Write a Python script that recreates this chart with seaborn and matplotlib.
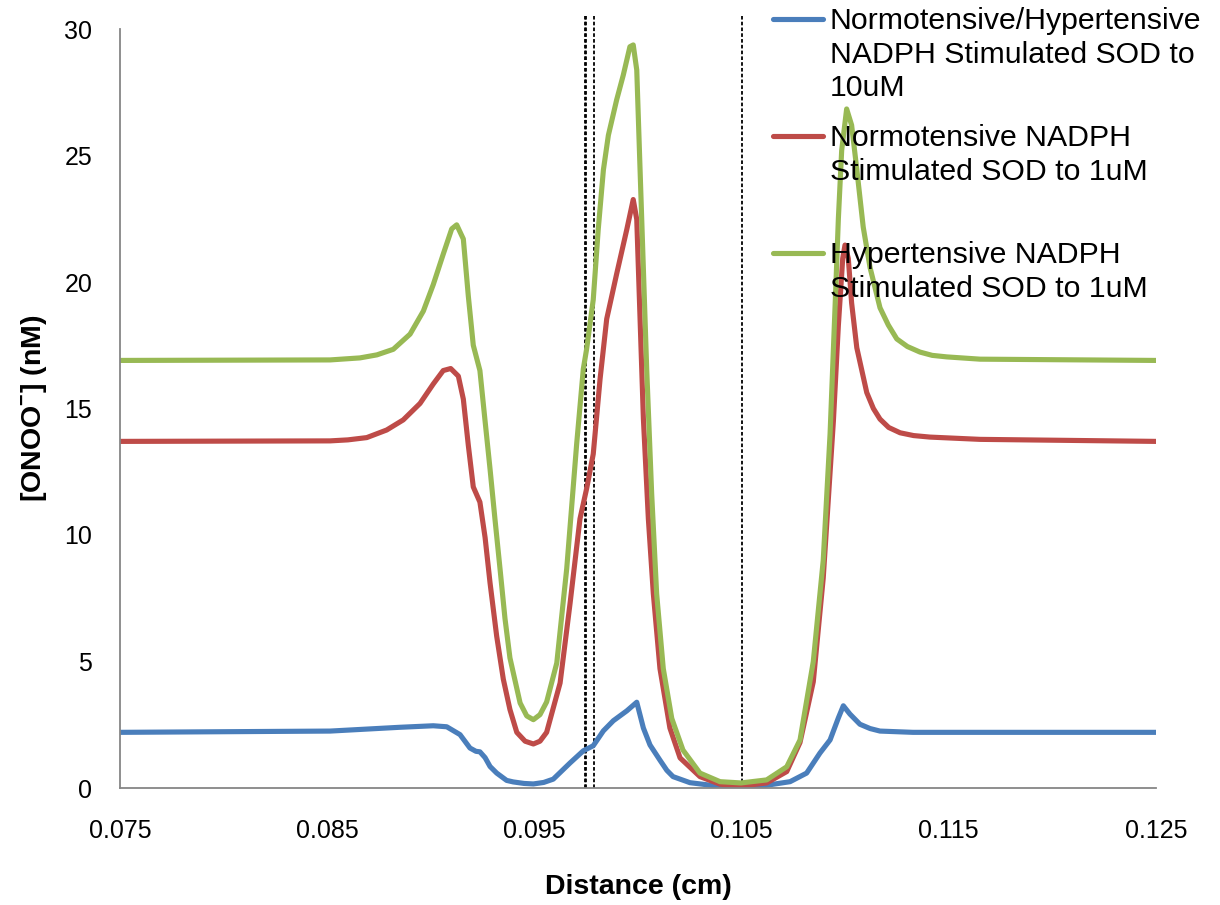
import matplotlib
matplotlib.use("Agg")
import matplotlib.pyplot as plt
from matplotlib.lines import Line2D
import pandas as pd
import seaborn as sns

# ---------------- data ----------------
series_names = [
    "Normotensive/Hypertensive\nNADPH Stimulated SOD to\n10uM",
    "Normotensive NADPH\nStimulated SOD to 1uM",
    "Hypertensive NADPH\nStimulated SOD to 1uM",
]
colors = ["#4A7EBB", "#BE4B48", "#98B954"]

blue_x = [0.075, 0.08514, 0.08851, 0.09012, 0.09077, 0.09141, 0.09189, 0.09218, 0.09237, 0.09262,
          0.09286, 0.09318, 0.09366, 0.09398, 0.09450, 0.09495, 0.09545, 0.09591, 0.09672, 0.09736,
          0.09784, 0.09833, 0.09881, 0.09946, 0.09994, 0.10026, 0.10058, 0.10106, 0.10139, 0.10169,
          0.10251, 0.10410, 0.10574, 0.10734, 0.10814, 0.10878, 0.10927, 0.10967, 0.10991, 0.11023,
          0.11071, 0.11120, 0.11168, 0.11327, 0.125]
blue_y = [2.2, 2.25, 2.4, 2.46, 2.42, 2.11, 1.58, 1.45, 1.43, 1.2,
          0.85, 0.59, 0.3, 0.24, 0.18, 0.16, 0.22, 0.35, 0.99, 1.47,
          1.67, 2.26, 2.66, 3.05, 3.39, 2.37, 1.7, 1.1, 0.7, 0.45,
          0.21, 0.05, 0.05, 0.25, 0.59, 1.38, 1.9, 2.77, 3.25, 2.92,
          2.52, 2.35, 2.25, 2.2, 2.2]

red_x = [0.075, 0.08514, 0.08600, 0.08691, 0.08787, 0.08867, 0.08948, 0.09012, 0.09060, 0.09096,
         0.09133, 0.09157, 0.09181, 0.09205, 0.09237, 0.09262, 0.09286, 0.09318, 0.09350, 0.09382,
         0.09415, 0.09455, 0.09495, 0.09527, 0.09559, 0.09624, 0.09672, 0.09720, 0.09752, 0.09784,
         0.09817, 0.09849, 0.09897, 0.09946, 0.09977, 0.09994, 0.10010, 0.10026, 0.10050, 0.10074,
         0.10106, 0.10154, 0.10203, 0.10299, 0.10396, 0.10497, 0.10621, 0.10718, 0.10782, 0.10846,
         0.10894, 0.10943, 0.10967, 0.10988, 0.10999, 0.11015, 0.11031, 0.11056, 0.11104, 0.11136,
         0.11168, 0.11210, 0.11265, 0.11330, 0.11409, 0.11651, 0.125]
red_y = [13.7, 13.72, 13.76, 13.85, 14.15, 14.55, 15.2, 15.97, 16.5, 16.58,
         16.28, 15.37, 13.55, 11.9, 11.3, 9.9, 8.1, 6.0, 4.3, 3.1,
         2.2, 1.85, 1.74, 1.85, 2.2, 4.15, 7.29, 10.64, 11.83, 13.2,
         16.17, 18.54, 20.32, 22.08, 23.26, 22.47, 18.54, 14.6, 10.64, 7.68,
         4.72, 2.37, 1.19, 0.45, 0.15, 0.08, 0.2, 0.65, 1.8, 4.2,
         8.3, 14.5, 18.28, 20.93, 21.46, 20.93, 19.17, 17.4, 15.63, 15.0,
         14.58, 14.25, 14.04, 13.93, 13.87, 13.78, 13.7]

green_x = [0.075, 0.08514, 0.08658, 0.08740, 0.08819, 0.08900, 0.08964, 0.09012, 0.09060, 0.09101,
           0.09125, 0.09157, 0.09181, 0.09205, 0.09237, 0.09262, 0.09286, 0.09310, 0.09334, 0.09358,
           0.09382, 0.09431, 0.09463, 0.09495, 0.09527, 0.09559, 0.09608, 0.09656, 0.09704, 0.09736,
           0.09752, 0.09784, 0.09808, 0.09833, 0.09857, 0.09897, 0.09929, 0.09961, 0.09977, 0.09994,
           0.10010, 0.10026, 0.10042, 0.10066, 0.10090, 0.10122, 0.10163, 0.10217, 0.10299, 0.10396,
           0.10497, 0.10621, 0.10718, 0.10782, 0.10846, 0.10894, 0.10927, 0.10951, 0.10967, 0.10983,
           0.11007, 0.11031, 0.11056, 0.11087, 0.11120, 0.11168, 0.11208, 0.11249, 0.11300, 0.11361,
           0.11420, 0.11490, 0.11651, 0.125]
green_y = [16.9, 16.92, 17.0, 17.12, 17.34, 17.94, 18.85, 19.9, 21.1, 22.1,
           22.26, 21.7, 19.45, 17.5, 16.5, 14.5, 12.6, 10.6, 8.67, 6.7,
           5.14, 3.36, 2.85, 2.7, 2.9, 3.4, 4.94, 8.67, 13.6, 16.56,
           17.35, 19.3, 22.07, 24.43, 25.8, 27.2, 28.18, 29.3, 29.37, 28.38,
           24.43, 20.5, 16.56, 11.63, 7.68, 4.72, 2.75, 1.5, 0.59, 0.25,
           0.2, 0.32, 0.84, 1.9, 5.0, 9.0, 14.0, 19.0, 22.5, 25.2,
           26.84, 26.2, 24.45, 22.17, 20.57, 18.98, 18.3, 17.75, 17.45, 17.23,
           17.1, 17.04, 16.95, 16.9]

marker_lines_x = [0.09745, 0.0975, 0.0979, 0.105]

x_ticks = [0.075, 0.085, 0.095, 0.105, 0.115, 0.125]
x_tick_labels = ["0.075", "0.085", "0.095", "0.105", "0.115", "0.125"]
y_ticks = [0, 5, 10, 15, 20, 25, 30]

# ---------------- build table ----------------
frames = []
for name, xs, ys in zip(series_names, [blue_x, red_x, green_x], [blue_y, red_y, green_y]):
    frames.append(pd.DataFrame({"x": xs, "y": ys, "series": name}))
df = pd.concat(frames, ignore_index=True)

# ---------------- style ----------------
sns.set_style("white")
plt.rcParams["font.family"] = ["Liberation Sans", "DejaVu Sans"]
plt.rcParams["mathtext.fontset"] = "custom"
plt.rcParams["mathtext.rm"] = "Liberation Sans"
plt.rcParams["mathtext.bf"] = "Liberation Sans:bold"
plt.rcParams["text.color"] = "black"
plt.rcParams["axes.labelcolor"] = "black"

W, H = 1220, 905
LW = 3.7
fig = plt.figure(figsize=(W / 100, H / 100), dpi=100)
ax = fig.add_axes([120 / W, 1 - 788 / H, (1156 - 120) / W, (788 - 29) / H])

sns.lineplot(data=df, x="x", y="y", hue="series", hue_order=series_names,
             palette=colors, estimator=None, sort=False, linewidth=LW,
             legend=False, ax=ax)
for ln in ax.get_lines():
    ln.set_solid_joinstyle("round")
    ln.set_solid_capstyle("round")

ax.vlines(marker_lines_x, 0, 30.5, colors="black", linestyles=(0, (2.0, 1.2)),
          linewidth=1.3, clip_on=False, zorder=1)

ax.set_xlim(0.075, 0.125)
ax.set_ylim(0, 30)
ax.set_xticks(x_ticks)
ax.set_xticklabels(x_tick_labels)
ax.set_yticks(y_ticks)
ax.tick_params(axis="both", length=0, labelsize=18, colors="black")
ax.tick_params(axis="x", pad=22)
ax.tick_params(axis="y", pad=20)

for s in ["top", "right"]:
    ax.spines[s].set_visible(False)
for s in ["left", "bottom"]:
    ax.spines[s].set_color("#868686")
    ax.spines[s].set_linewidth(1.3)

ax.set_xlabel("Distance (cm)", fontsize=20.5, fontweight="bold", labelpad=23)
ax.set_ylabel(r"[ONOO$^{\mathbf{-}}$] (nM)", fontsize=20.5, fontweight="bold", labelpad=11)

# ---------------- legend (Excel-style, handle on first line) ----------------
legend_rows_px = [19, 136, 253]
for name, col, ypx in zip(series_names, colors, legend_rows_px):
    fig.add_artist(Line2D([773 / W, 823 / W], [1 - ypx / H, 1 - ypx / H],
                          color=col, linewidth=LW, solid_capstyle="round",
                          transform=fig.transFigure))
    fig.text(830 / W, 1 - (ypx - 12) / H, name, fontsize=21.8, va="top", ha="left",
             linespacing=1.26, color="black")

fig.savefig("out.png", dpi=100)
